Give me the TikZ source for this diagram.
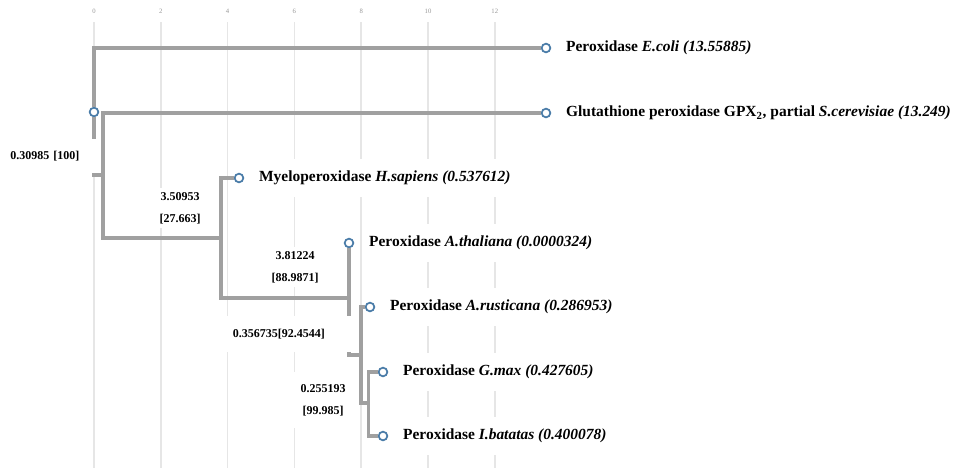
\documentclass[tikz,border=0pt]{standalone}
\usepackage{fontspec}
\setmainfont{Liberation Serif}
\usetikzlibrary{positioning}

\definecolor{branchgray}{RGB}{160,160,160}
\definecolor{gridgray}{RGB}{230,230,230}
\definecolor{nodeblue}{RGB}{74,124,168}
\definecolor{tickgray}{RGB}{150,150,150}

\tikzset{
  branch/.style={draw=branchgray, line width=2.3pt},
  leaf/.style={circle, draw=nodeblue, fill=white, line width=1.3pt, minimum size=6.5pt, inner sep=0pt},
  leaftext/.style={fill=white, font=\bfseries\fontsize{11.6}{13}\selectfont, inner xsep=1pt, inner ysep=9pt},
  supportlabel/.style={fill=white, font=\bfseries\fontsize{9}{10.5}\selectfont, align=center},
}

\begin{document}
\begin{tikzpicture}[x=0.75pt, y=-0.75pt]
  \def\gridstep{66.8};
  \def\gridleft{94};

  \useasboundingbox (0,0) rectangle (955,468);

  \foreach \i/\t in {0/0,1/2,2/4,3/6,4/8,5/10,6/12} {
    \draw[gridgray, line width=1.1pt] (\gridleft+\i*\gridstep,22) -- (\gridleft+\i*\gridstep,468);
    \node[font=\fontsize{5}{6}\selectfont, text=tickgray] (tick\i) at (\gridleft+\i*\gridstep,11) {\t};
  }

  \begin{scope}
    \node[leaf] (root) at (94,112) {};
    \node[leaf] (ecoli) at (546,48) {};
    \node[leaf] (gpx) at (546,113) {};
    \node[leaf] (myelo) at (239,178) {};
    \node[leaf] (thaliana) at (349,243) {};
    \node[leaf] (rusticana) at (370,307) {};
    \node[leaf] (gmax) at (383,372) {};
    \node[leaf] (batatas) at (383,436) {};
  \end{scope}

  \begin{scope}
    \node[leaftext, right=10pt of ecoli] (ecolitext) {Peroxidase \textit{E.coli (13.55885)}};
    \node[leaftext, right=10pt of gpx] (gpxtext) {Glutathione peroxidase GPX\textsubscript{2}, partial \textit{S.cerevisiae (13.249)}};
    \node[leaftext, right=10pt of myelo] (myelotext) {Myeloperoxidase \textit{H.sapiens (0.537612)}};
    \node[leaftext, right=10pt of thaliana] (thalianatext) {Peroxidase \textit{A.thaliana (0.0000324)}};
    \node[leaftext, right=10pt of rusticana] (rusticanatext) {Peroxidase \textit{A.rusticana (0.286953)}};
    \node[leaftext, right=10pt of gmax] (gmaxtext) {Peroxidase \textit{G.max (0.427605)}};
    \node[leaftext, right=10pt of batatas] (batatastext) {Peroxidase \textit{I.batatas (0.400078)}};
  \end{scope}

  \coordinate (j1) at (103,175);
  \coordinate (j2) at (221,238);
  \coordinate (j3) at (349,298);
  \coordinate (j4) at (361,355);
  \coordinate (j5) at (368.5,403);

  \begin{scope}[branch]
    \draw (root) |- (ecoli);
    \draw (root) |- (j1);
    \draw (gpx) -| (j1 |- j2) -- (j2);
    \draw (myelo) -| (j2 |- j3) -- (j3);
    \draw (thaliana) -- (j3 |- j4) -- (j4);
    \draw (rusticana) -| (j4 |- j5) -- (j5);
    \draw (gmax) -| (j5 |- batatas) -- (batatas);
  \end{scope}

  \node[supportlabel, anchor=west, align=left, inner xsep=7.5pt, inner ysep=9pt, text width=58pt] (s1) at (0,156) {0.30985 [100]};
  \node[supportlabel] (s2) at (180,208) {3.50953\\[6pt][27.663]};
  \node[supportlabel] (s3) at (295,267) {3.81224\\[6pt][88.9871]};
  \node[supportlabel, anchor=west, align=left, inner xsep=5pt, inner ysep=9.5pt, text width=84pt] (s4) at (226,334) {0.356735[92.4544]};
  \node[supportlabel, inner xsep=6pt, inner ysep=9pt] (s5) at (323,400) {0.255193\\[6pt][99.985]};
\end{tikzpicture}
\end{document}
